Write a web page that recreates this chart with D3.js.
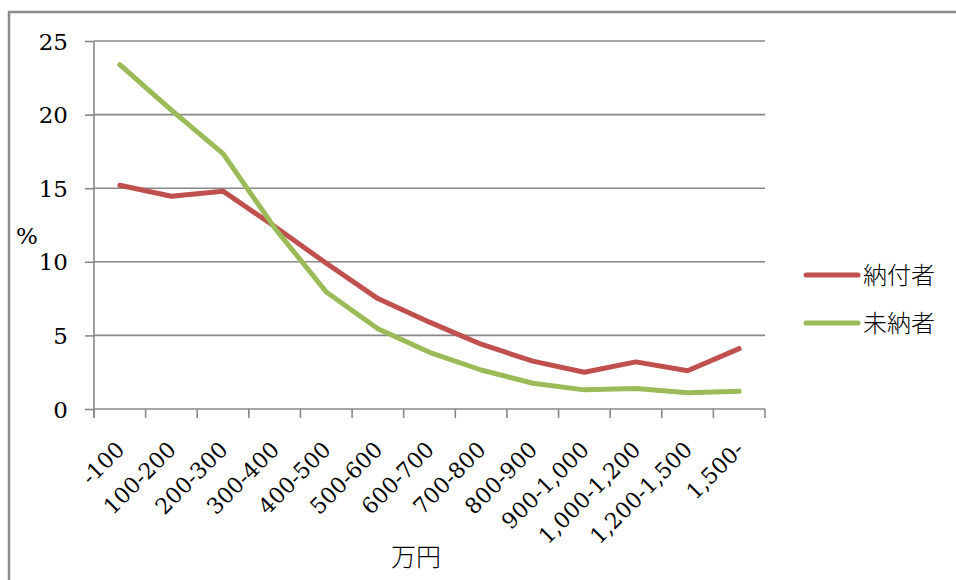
<!DOCTYPE html>
<html>
<head>
<meta charset="utf-8">
<script src="https://cdn.jsdelivr.net/npm/d3@7"></script>
<style>
  html, body { margin: 0; padding: 0; background: #fff; }
  svg { display: block; }
  .serif { font-family: "DejaVu Serif", serif; }
  .cjk { font-family: "Noto Sans CJK JP", "Noto Sans", sans-serif; font-weight: 300; }
</style>
</head>
<body>
<svg id="chart" width="956" height="580"></svg>
<script>
// ---- data ----
const categories = ["-100", "100-200", "200-300", "300-400", "400-500", "500-600", "600-700",
                    "700-800", "800-900", "900-1,000", "1,000-1,200", "1,200-1,500", "1,500-"];
const payers    = [15.2, 14.45, 14.8, 12.4, 9.9, 7.5, 5.9, 4.4, 3.25, 2.5, 3.2, 2.6, 4.1];   // 納付者
const nonPayers = [23.4, 20.3, 17.35, 12.3, 7.95, 5.45, 3.85, 2.65, 1.75, 1.3, 1.4, 1.1, 1.2]; // 未納者
const seriesNames = ["納付者", "未納者"];
const seriesColors = ["#C0504D", "#9BBB59"];
const yTicks = [0, 5, 10, 15, 20, 25];
const yLabel = "%";
const xLabel = "万円";

// ---- layout ----
const svg = d3.select("#chart");
const plot = { left: 94, right: 765, top: 41, bottom: 409 };
const gridColor = "#878787";

// outer frame (extends beyond the window on right and bottom)
svg.append("rect")
  .attr("x", 9).attr("y", 12).attr("width", 1000).attr("height", 600)
  .attr("fill", "none").attr("stroke", "#8a8a8a").attr("stroke-width", 2.5);

const x = d3.scaleBand().domain(categories).range([plot.left, plot.right]).paddingInner(0).paddingOuter(0);
const y = d3.scaleLinear().domain([0, 25]).range([plot.bottom, plot.top]);

// y ticks + labels
const yAxis = d3.axisLeft(y).tickValues(yTicks).tickSize(9).tickSizeOuter(0).tickFormat(d3.format("d"));
const yg = svg.append("g").attr("transform", `translate(${plot.left},0)`).call(yAxis);
yg.attr("font-family", null).attr("font-size", null);
yg.select(".domain").remove();
yg.selectAll(".tick line").attr("stroke", gridColor).attr("stroke-width", 1.6);
yg.selectAll(".tick text")
  .attr("class", "serif")
  .attr("x", -26).attr("dy", "0.35em")
  .attr("font-size", 23).attr("fill", "#000");

// gridlines
svg.append("g").selectAll("line").data(yTicks).join("line")
  .attr("x1", plot.left).attr("x2", plot.right)
  .attr("y1", d => y(d)).attr("y2", d => y(d))
  .attr("stroke", gridColor).attr("stroke-width", 1.6);

// y axis line
svg.append("line")
  .attr("x1", plot.left).attr("x2", plot.left)
  .attr("y1", plot.top).attr("y2", plot.bottom + 9)
  .attr("stroke", gridColor).attr("stroke-width", 1.6);

// x axis ticks (at category boundaries)
const boundaries = categories.map(c => x(c)).concat([x(categories[categories.length - 1]) + x.bandwidth()]);
svg.append("g").selectAll("line").data(boundaries).join("line")
  .attr("x1", d => d).attr("x2", d => d)
  .attr("y1", plot.bottom).attr("y2", plot.bottom + 9)
  .attr("stroke", gridColor).attr("stroke-width", 1.6);

// x tick labels rotated
svg.append("g").selectAll("text").data(categories).join("text")
  .attr("class", "serif")
  .attr("transform", d => `translate(${x(d) + x.bandwidth() / 2 + 6},${plot.bottom + 42}) rotate(-45)`)
  .attr("text-anchor", "end")
  .attr("font-size", 22).attr("fill", "#000")
  .text(d => d);

// lines
const line = d3.line()
  .x((d, i) => x(categories[i]) + x.bandwidth() / 2)
  .y(d => y(d));
[payers, nonPayers].forEach((s, k) => {
  svg.append("path").datum(s)
    .attr("d", line)
    .attr("fill", "none")
    .attr("stroke", seriesColors[k])
    .attr("stroke-width", 5)
    .attr("stroke-linejoin", "round")
    .attr("stroke-linecap", "round");
});

// axis titles
svg.append("text").attr("class", "serif").attr("x", 27).attr("y", 244).attr("text-anchor", "middle")
  .attr("font-size", 23).attr("fill", "#000").text(yLabel);
svg.append("text").attr("class", "cjk").attr("x", 416).attr("y", 566).attr("text-anchor", "middle")
  .attr("font-size", 25).attr("fill", "#000").text(xLabel);

// legend
const lg = svg.append("g");
seriesNames.forEach((name, k) => {
  const ly = 275 + k * 48;
  lg.append("line").attr("x1", 806).attr("x2", 858).attr("y1", ly).attr("y2", ly)
    .attr("stroke", seriesColors[k]).attr("stroke-width", 5).attr("stroke-linecap", "round");
  lg.append("text").attr("class", "cjk").attr("x", 863).attr("y", ly).attr("dy", "0.36em")
    .attr("font-size", 24).attr("fill", "#000")
    .text(name);
});
</script>
</body>
</html>
